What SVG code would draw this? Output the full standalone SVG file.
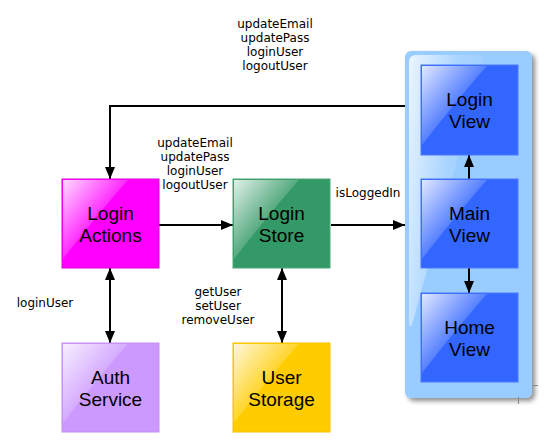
<svg xmlns="http://www.w3.org/2000/svg" xmlns:xlink="http://www.w3.org/1999/xlink" width="547" height="448" viewBox="0 0 547 448">
<style>
.lbl{font-family:"DejaVu Sans",Verdana,sans-serif;font-size:12px;fill:#000;text-anchor:middle}
.nt{font-family:"Liberation Sans",Arial,sans-serif;font-size:19px;fill:#000;text-anchor:middle}
.con{fill:none;stroke:#000;stroke-width:2}
.tick{stroke:#888;stroke-width:1}
</style>
<defs>
<marker id="ah" markerUnits="userSpaceOnUse" markerWidth="12" markerHeight="12" viewBox="0 0 12 12" refX="12" refY="6" orient="auto-start-reverse">
<path d="M0,1 L12,6 L0,11 Z" fill="#000"/>
</marker>
<linearGradient id="gl" x1="0" y1="0" x2="1" y2="1">
<stop offset="0" stop-color="#fff" stop-opacity="0.85"/>
<stop offset="0.55" stop-color="#fff" stop-opacity="0.1"/>
<stop offset="1" stop-color="#fff" stop-opacity="0.05"/>
</linearGradient>
<linearGradient id="pgl" x1="0" y1="0" x2="1" y2="0.4">
<stop offset="0" stop-color="#fff" stop-opacity="0.8"/>
<stop offset="0.6" stop-color="#fff" stop-opacity="0.15"/>
<stop offset="1" stop-color="#fff" stop-opacity="0.05"/>
</linearGradient>
<path id="gloss" d="M1,1 H66 Q40,30 1,80 Z" fill="url(#gl)"/>
<filter id="sh" x="-10%" y="-10%" width="130%" height="130%">
<feGaussianBlur in="SourceAlpha" stdDeviation="2.5"/>
<feOffset dx="3" dy="3" result="b"/>
<feComponentTransfer><feFuncA type="linear" slope="0.45"/></feComponentTransfer>
<feMerge><feMergeNode/><feMergeNode in="SourceGraphic"/></feMerge>
</filter>
</defs>

<g id="views-panel">
<rect x="405" y="51" width="127" height="347" rx="6" fill="#99ccff" filter="url(#sh)"/>
<path d="M409,62 Q409,55 416,55 H480 Q484,56 482,70 L412,325 Q409,330 409,320 Z" fill="url(#pgl)"/>
</g>

<g id="connectors">
<polyline class="con" points="405,106 110,106 110,179" marker-end="url(#ah)"/>
<line class="con" x1="159" y1="225" x2="233" y2="225" marker-end="url(#ah)"/>
<line class="con" x1="331" y1="225" x2="405" y2="225" marker-end="url(#ah)"/>
<line class="con" x1="110" y1="268" x2="110" y2="343" marker-start="url(#ah)" marker-end="url(#ah)"/>
<line class="con" x1="282" y1="268" x2="282" y2="343" marker-start="url(#ah)" marker-end="url(#ah)"/>
<line class="con" x1="469" y1="179" x2="469" y2="155" marker-end="url(#ah)"/>
<line class="con" x1="469" y1="268" x2="469" y2="293" marker-end="url(#ah)"/>
</g>

<g id="labels">
<text class="lbl" x="275" y="28">updateEmail</text>
<text class="lbl" x="275" y="42">updatePass</text>
<text class="lbl" x="275" y="56">loginUser</text>
<text class="lbl" x="275" y="70">logoutUser</text>
<text class="lbl" x="195" y="147">updateEmail</text>
<text class="lbl" x="195" y="161">updatePass</text>
<text class="lbl" x="195" y="175">loginUser</text>
<text class="lbl" x="195" y="189">logoutUser</text>
<text class="lbl" x="368" y="197">isLoggedIn</text>
<text class="lbl" x="45" y="307">loginUser</text>
<text class="lbl" x="218" y="296">getUser</text>
<text class="lbl" x="218" y="310">setUser</text>
<text class="lbl" x="218" y="324">removeUser</text>
</g>

<g id="login-actions">
<rect x="62" y="179" width="97" height="89" fill="#ff00ff" stroke="#e000e0" stroke-width="1"/>
<use xlink:href="#gloss" x="62" y="179"/>
<text class="nt" x="110.5" y="220">Login</text>
<text class="nt" x="110.5" y="242">Actions</text>
</g>

<g id="login-store">
<rect x="233" y="179" width="97" height="89" fill="#339966" stroke="#4aa877" stroke-width="1"/>
<use xlink:href="#gloss" x="233" y="179"/>
<text class="nt" x="281.5" y="220">Login</text>
<text class="nt" x="281.5" y="242">Store</text>
</g>

<g id="auth-service">
<rect x="62" y="343" width="97" height="89" fill="#cc99ff" stroke="#c28ff5" stroke-width="1"/>
<use xlink:href="#gloss" x="62" y="343"/>
<text class="nt" x="110.5" y="384">Auth</text>
<text class="nt" x="110.5" y="406">Service</text>
</g>

<g id="user-storage">
<rect x="233" y="343" width="97" height="89" fill="#ffcc00" stroke="#f5c400" stroke-width="1"/>
<use xlink:href="#gloss" x="233" y="343"/>
<text class="nt" x="281.5" y="384">User</text>
<text class="nt" x="281.5" y="406">Storage</text>
</g>

<g id="login-view">
<rect x="421" y="65" width="97" height="90" fill="#3366ff" stroke="#4d79ff" stroke-width="1"/>
<use xlink:href="#gloss" x="421" y="65"/>
<text class="nt" x="469.5" y="106">Login</text>
<text class="nt" x="469.5" y="128">View</text>
</g>

<g id="main-view">
<rect x="421" y="179" width="97" height="89" fill="#3366ff" stroke="#4d79ff" stroke-width="1"/>
<use xlink:href="#gloss" x="421" y="179"/>
<text class="nt" x="469.5" y="220">Main</text>
<text class="nt" x="469.5" y="242">View</text>
</g>

<g id="home-view">
<rect x="421" y="293" width="97" height="89" fill="#3366ff" stroke="#4d79ff" stroke-width="1"/>
<use xlink:href="#gloss" x="421" y="293"/>
<text class="nt" x="469.5" y="334">Home</text>
<text class="nt" x="469.5" y="356">View</text>
</g>

<line class="tick" x1="533" y1="385.5" x2="538" y2="385.5"/>
<line class="tick" x1="518.5" y1="397" x2="518.5" y2="404"/>
</svg>
